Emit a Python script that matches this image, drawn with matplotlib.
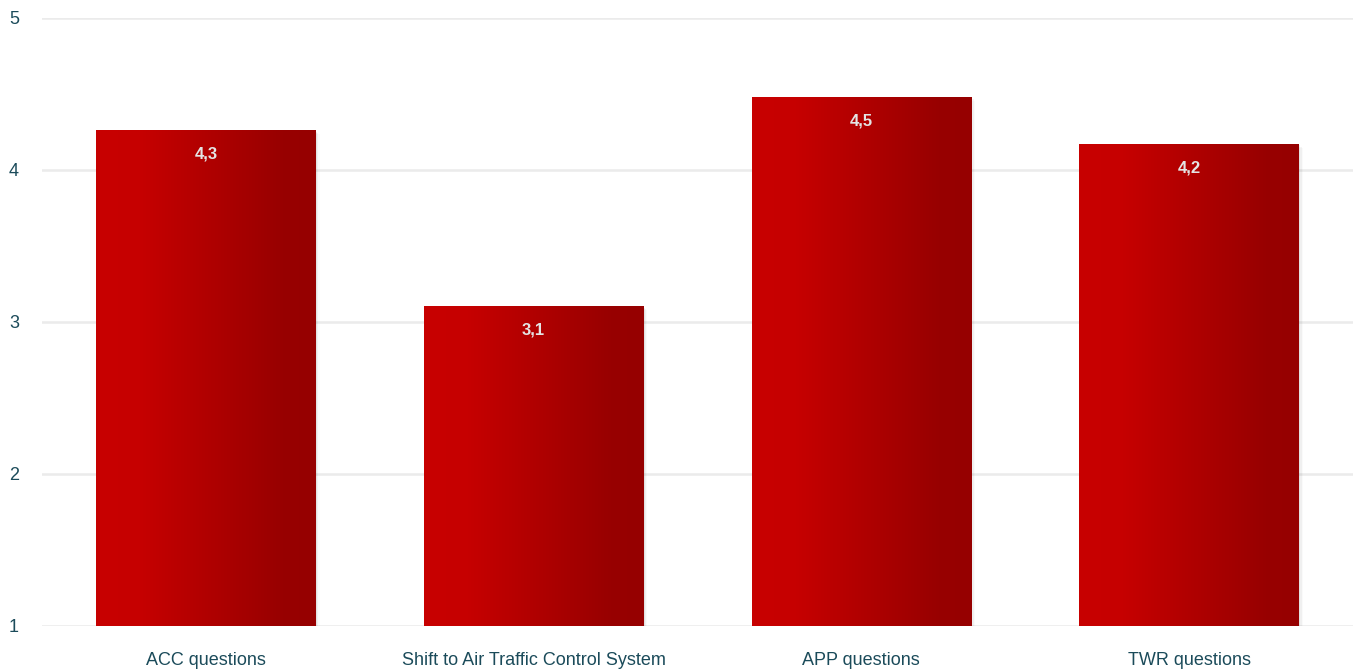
import numpy as np
import matplotlib.pyplot as plt
from matplotlib.colors import LinearSegmentedColormap
from matplotlib.patches import Rectangle

categories = ['ACC questions', 'Shift to Air Traffic Control System', 'APP questions', 'TWR questions']
values = [4.26, 3.10, 4.48, 4.17]
labels = ['4,3', '3,1', '4,5', '4,2']

text_color = '#1b4b5a'
grad = LinearSegmentedColormap.from_list(
    'redgrad', [(0.0, '#c80000'), (0.2, '#c60000'), (0.85, '#980000'), (1.0, '#960000')])

fig = plt.figure(figsize=(13.64, 6.70), dpi=100)
ax = fig.add_axes([42 / 1364, 44 / 670, 1311 / 1364, 608 / 670])

x = np.arange(len(categories))
bars = ax.bar(x, [v - 1 for v in values], bottom=1, width=0.67, color='none', zorder=3)

gradient = np.linspace(0, 1, 256).reshape(1, -1)
for b, lab in zip(bars, labels):
    x0, y0 = b.get_x(), b.get_y()
    w, h = b.get_width(), b.get_height()
    # soft shadow
    for i, a in enumerate([0.06, 0.04, 0.02]):
        off = 0.004 * (i + 1)
        ax.add_patch(Rectangle((x0 + off, y0 - off * 2), w, h, facecolor='black',
                               alpha=a, edgecolor='none', zorder=2))
    ax.imshow(gradient, cmap=grad, aspect='auto', extent=[x0, x0 + w, y0, y0 + h],
              zorder=3, interpolation='bicubic')
    ax.text(x0 + w / 2, y0 + h - 0.155, lab, ha='center', va='center',
            fontsize=12, fontweight='bold', color='#e4e4e4',
            family='Liberation Sans', zorder=4)

ax.set_xlim(-0.5, len(categories) - 0.5)
ax.set_ylim(1, 5)
ax.set_yticks([1, 2, 3, 4, 5])
ax.set_xticks(x)
ax.set_xticklabels(categories)
ax.grid(axis='y', color='#ebebeb', linewidth=1.8, zorder=0)
ax.set_axisbelow(True)
for s in ax.spines.values():
    s.set_visible(False)
ax.tick_params(axis='both', length=0, colors=text_color, labelsize=13)
ax.tick_params(axis='y', pad=16.5)
ax.tick_params(axis='x', pad=19)
for t in ax.get_xticklabels() + ax.get_yticklabels():
    t.set_family('Liberation Sans')
    t.set_color(text_color)

fig.savefig('out.png', dpi=100)
